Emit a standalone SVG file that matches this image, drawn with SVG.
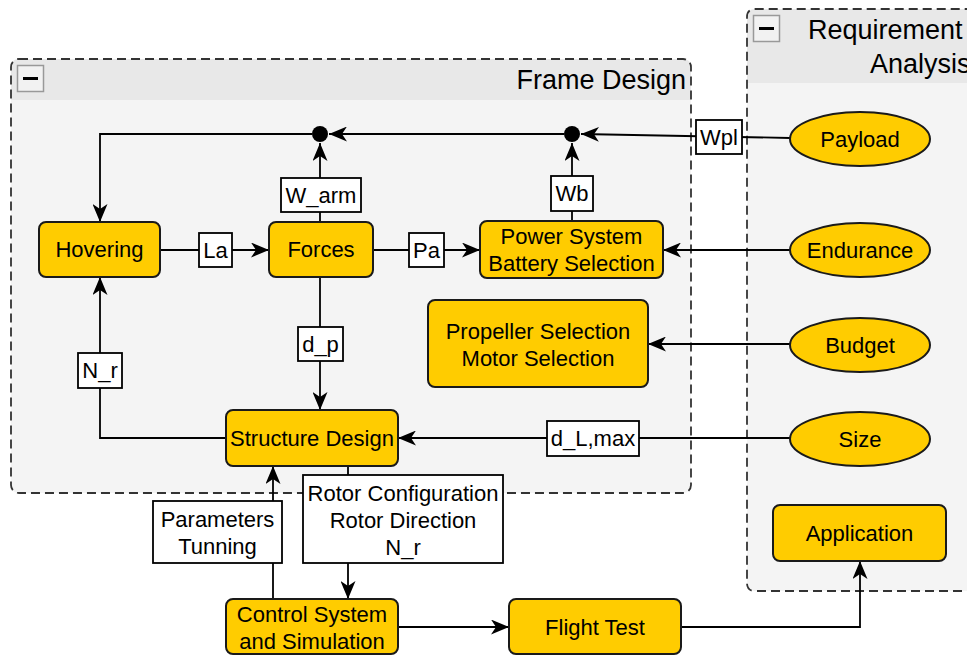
<svg xmlns="http://www.w3.org/2000/svg" width="967" height="655" viewBox="0 0 967 655">
  <defs>
    <marker id="arrow" markerUnits="userSpaceOnUse" markerWidth="19" markerHeight="15" refX="18" refY="7.5" orient="auto">
      <path d="M0,0 L18,7.5 L0,15 L5,7.5 Z" fill="#000"/>
    </marker>
    <style>
      text { font-family: "Liberation Sans", Arial, sans-serif; fill: #000; }
      .node rect, .node ellipse { fill: #ffcc00; stroke: #1a1a1a; stroke-width: 2; }
      .node text { font-size: 22px; text-anchor: middle; }
      .label rect { fill: #fff; stroke: #000; stroke-width: 1.8; }
      .label text { font-size: 22px; text-anchor: middle; }
      .edge { fill: none; stroke: #000; stroke-width: 1.8; }
      .arrowed { marker-end: url(#arrow); }
      .dot { fill: #000; }
      .box { stroke: #333; stroke-width: 1.8; stroke-dasharray: 9 5; fill: none; }
      .head { fill: #e8e8e8; }
      .body { fill: #f4f4f4; }
      .title { font-size: 27px; }
      .toggle rect { fill: #f2f2f2; stroke: #999; stroke-width: 1.5; }
      .toggle line { stroke: #000; stroke-width: 3; }
    </style>
  </defs>

  <!-- Requirement Analysis swimlane -->
  <g id="requirement-analysis">
    <path class="body" d="M747,83 H990 V591 H755 Q747,591 747,583 Z"/>
    <path class="head" d="M747,83 V17 Q747,9 755,9 H990 V83 Z"/>
    <path class="box" d="M990,591 H755 Q747,591 747,583 V17 Q747,9 755,9 H990"/>
    <g class="toggle">
      <rect x="753.5" y="15.5" width="26" height="26"/>
      <line x1="759" y1="28.5" x2="774" y2="28.5"/>
    </g>
    <text class="title" x="808" y="39">Requirement</text>
    <text class="title" x="870" y="73">Analysis</text>
  </g>

  <!-- Frame Design swimlane -->
  <g id="frame-design">
    <path class="body" d="M11,100 H691 V485 Q691,493 683,493 H19 Q11,493 11,485 Z"/>
    <path class="head" d="M11,100 V67 Q11,59 19,59 H683 Q691,59 691,67 V100 Z"/>
    <rect class="box" x="11" y="59" width="680" height="434" rx="8" ry="8"/>
    <g class="toggle">
      <rect x="17.5" y="65.5" width="26" height="26"/>
      <line x1="23" y1="78.5" x2="38" y2="78.5"/>
    </g>
    <text class="title" x="686" y="89" text-anchor="end">Frame Design</text>
  </g>

  <!-- connectors -->
  <g id="connectors">
    <path class="edge arrowed" d="M790,138 L581,134"/>
    <path class="edge arrowed" d="M564,134 L329,134"/>
    <path class="edge arrowed" d="M312,134 H100 V222"/>
    <path class="edge arrowed" d="M320,222 V143"/>
    <path class="edge arrowed" d="M572,221 V143"/>
    <path class="edge arrowed" d="M160,250 H269"/>
    <path class="edge arrowed" d="M373,250 H480"/>
    <path class="edge arrowed" d="M790,250 H663"/>
    <path class="edge arrowed" d="M790,344 H648"/>
    <path class="edge arrowed" d="M790,438 H398"/>
    <path class="edge arrowed" d="M320,277 V410"/>
    <path class="edge arrowed" d="M226,438 H100 V277"/>
    <path class="edge arrowed" d="M273,599 V466"/>
    <path class="edge arrowed" d="M348,466 V599"/>
    <path class="edge arrowed" d="M398,627 H509"/>
    <path class="edge arrowed" d="M681,627 H860 V561"/>
    <circle class="dot" cx="320" cy="134" r="8"/>
    <circle class="dot" cx="572" cy="134" r="8"/>

    <g class="label"><rect x="696" y="120" width="46" height="34"/><text x="719" y="145">Wpl</text></g>
    <g class="label"><rect x="281" y="178" width="80" height="34"/><text x="321" y="203">W_arm</text></g>
    <g class="label"><rect x="551" y="176" width="42" height="35"/><text x="572" y="201">Wb</text></g>
    <g class="label"><rect x="199" y="233" width="33" height="34"/><text x="215.5" y="258">La</text></g>
    <g class="label"><rect x="409" y="233" width="35" height="34"/><text x="426.5" y="258">Pa</text></g>
    <g class="label"><rect x="298" y="327" width="45" height="34"/><text x="320.5" y="352">d_p</text></g>
    <g class="label"><rect x="78" y="353" width="44" height="35"/><text x="100" y="378">N_r</text></g>
    <g class="label"><rect x="547" y="421" width="92" height="35"/><text x="593" y="446">d_L,max</text></g>
    <g class="label">
      <rect x="153" y="501" width="129" height="62"/>
      <text x="217.5" y="527">Parameters</text>
      <text x="217.5" y="554">Tunning</text>
    </g>
    <g class="label">
      <rect x="303" y="475" width="200" height="88"/>
      <text x="403" y="501">Rotor Configuration</text>
      <text x="403" y="528">Rotor Direction</text>
      <text x="403" y="555">N_r</text>
    </g>
  </g>

  <!-- process nodes -->
  <g id="hovering" class="node">
    <rect x="39" y="222" width="121" height="55" rx="7"/>
    <text x="99.5" y="257">Hovering</text>
  </g>
  <g id="forces" class="node">
    <rect x="269" y="222" width="104" height="55" rx="7"/>
    <text x="321" y="257">Forces</text>
  </g>
  <g id="power-system" class="node">
    <rect x="480" y="221" width="183" height="57" rx="7"/>
    <text x="571.5" y="244">Power System</text>
    <text x="571.5" y="271">Battery Selection</text>
  </g>
  <g id="propeller-motor" class="node">
    <rect x="428" y="300" width="220" height="87" rx="7"/>
    <text x="538" y="339">Propeller Selection</text>
    <text x="538" y="366">Motor Selection</text>
  </g>
  <g id="structure-design" class="node">
    <rect x="226" y="410" width="172" height="56" rx="7"/>
    <text x="312" y="446">Structure Design</text>
  </g>
  <g id="control-system" class="node">
    <rect x="226" y="599" width="172" height="55" rx="7"/>
    <text x="312" y="622">Control System</text>
    <text x="312" y="649">and Simulation</text>
  </g>
  <g id="flight-test" class="node">
    <rect x="509" y="599" width="172" height="55" rx="7"/>
    <text x="595" y="635">Flight Test</text>
  </g>
  <g id="application" class="node">
    <rect x="773" y="505" width="173" height="56" rx="7"/>
    <text x="859.5" y="541">Application</text>
  </g>

  <!-- requirement nodes -->
  <g id="payload" class="node">
    <ellipse cx="860" cy="139" rx="70" ry="27"/>
    <text x="860" y="147">Payload</text>
  </g>
  <g id="endurance" class="node">
    <ellipse cx="860" cy="250" rx="70" ry="27"/>
    <text x="860" y="258">Endurance</text>
  </g>
  <g id="budget" class="node">
    <ellipse cx="860" cy="345" rx="70" ry="27"/>
    <text x="860" y="353">Budget</text>
  </g>
  <g id="size" class="node">
    <ellipse cx="860" cy="439" rx="70" ry="27"/>
    <text x="860" y="447">Size</text>
  </g>
</svg>
